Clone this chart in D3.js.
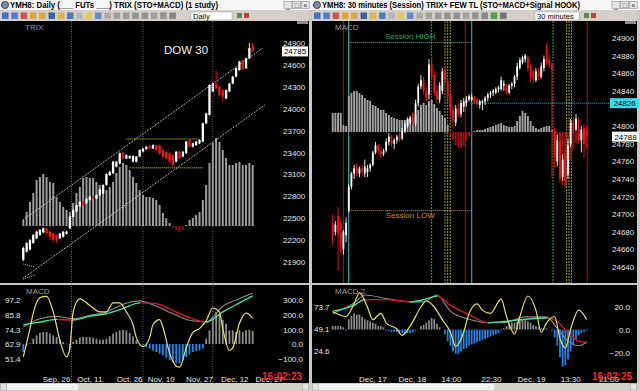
<!DOCTYPE html>
<html>
<head>
<meta charset="utf-8">
<script src="https://cdn.jsdelivr.net/npm/d3@7"></script>
<style>
  html, body { margin: 0; padding: 0; background: #c0c0c0; }
  svg { display: block; font-family: "Liberation Sans", Arial, sans-serif; }
</style>
</head>
<body>
<svg width="640" height="391"></svg>
<script>
// ---------- Daily window data (open, high, low, close) ----------
const dailyOHLC = [
  [21930,22110,21910,22090],[22040,22170,22030,22160],[22070,22215,22060,22200],[22160,22285,22150,22270],
  [22225,22330,22215,22315],[22270,22350,22260,22340],[22305,22375,22295,22360],[22360,22375,22280,22290],
  [22315,22330,22200,22245],[22290,22300,22180,22200],[22270,22280,22160,22200],[22225,22300,22215,22290],
  [22245,22325,22235,22315],[22285,22330,22275,22315],[22360,22530,22350,22520],[22520,22625,22510,22610],
  [22590,22690,22580,22680],[22665,22735,22655,22725],[22725,22740,22670,22680],[22705,22780,22695,22770],
  [22750,22805,22740,22795],[22795,22810,22760,22770],[22770,22830,22760,22815],[22815,22905,22805,22895],
  [22840,22965,22830,22955],[22955,23115,22945,23105],[23090,23150,23080,23135],[23115,23285,23105,23275],
  [23205,23285,23195,23275],[23250,23400,23240,23390],[23395,23410,23310,23320],[23320,23375,23310,23365],
  [23320,23360,23310,23350],[23275,23360,23265,23350],[23275,23350,23265,23345],[23345,23445,23335,23435],
  [23410,23465,23400,23455],[23445,23490,23435,23480],[23490,23500,23450,23455],[23455,23510,23445,23500],
  [23500,23510,23420,23435],[23500,23510,23370,23390],[23435,23445,23310,23345],[23410,23420,23300,23320],
  [23390,23400,23250,23275],[23365,23375,23200,23230],[23275,23420,23265,23410],[23410,23420,23310,23320],
  [23345,23420,23335,23410],[23390,23560,23380,23550],[23570,23590,23470,23480],[23480,23535,23470,23525],
  [23500,23560,23490,23550],[23525,23580,23515,23570],[23550,23810,23540,23800],[23800,23945,23790,23935],
  [23915,24335,23905,24325],[24235,24360,24225,24345],[24345,24530,24270,24280],[24300,24310,24170,24185],
  [24255,24265,24100,24165],[24140,24265,24130,24255],[24235,24355,24225,24345],[24345,24450,24335,24440],
  [24440,24560,24430,24555],[24530,24655,24520,24645],[24665,24675,24530,24540],[24555,24700,24545,24690],
  [24690,24900,24680,24830],[24870,24900,24770,24785]
];
const dailyTrixHist = [
  6,14,24,33,46,49,52,49,44,43, 29,24,19,16,14,23,33,39,48,49,
  48,48,44,41,36,36,39,44,53,59, 63,61,56,49,43,36,31,29,29,28,
  26,21,13,8,3,-2,-4,-6,-4,1, 6,8,11,14,26,41,63,83,88,84,
  76,68,61,61,63,64,61,61,63,61
];
const dailyMacdHist = [
  -55,-10,5,37,60,76,82,82,71,60, 48,30,14,2,-32,14,30,44,48,48,
  48,44,37,30,30,37,53,71,82,94, 98,94,76,53,25,2,-9,-21,-32,-44,
  -55,-66,-78,-94,-112,-124,-131,-131,-112,-89, -71,-55,-48,-44,-32,37,94,174,220,208,
  167,140,94,94,82,94,82,94,98,89
];
// [day index, value]
const dailyMacdLine = [[0,117],[5,174],[10,190],[15,174],[20,197],[25,220],[30,273],[35,296],[40,259],[45,208],[50,163],[55,151],[60,259],[65,311],[69,350]];
const dailySignal = [[0,133],[5,151],[10,169],[15,165],[20,190],[25,208],[30,243],[35,282],[40,277],[45,231],[50,181],[55,151],[60,220],[65,282],[69,330]];
const dailyStoch = [[0,53],[2,75],[3,87],[5,99],[7,100],[9,88],[11,66],[13,53],[14,60],[15,88],[17,98],[20,93],[23,88],[25,88],[27,95],[29,95],[31,88],[33,78],[34,68],[36,61],[38,68],[39,78],[41,82],[42,76],[44,56],[46,46],[47,45],[49,60],[51,72],[53,75],[55,81],[57,91],[59,88],[60,75],[62,58],[63,60],[65,79],[67,87],[69,83]];
const dailyPriceTicks = [21900,22200,22500,22800,23100,23400,23700,24000,24300,24600,24900];
const dailyMacdTicks = [-100,0,100,200,300];
const dailyStochTicks = [51.4,62.9,74.3,85.8,97.2];
const dailyDates = ["Sep, 26","Oct, 11","Oct, 26","Nov, 10","Nov, 27","Dec, 12","Dec, 27"];
const dailyDateDays = [10,20,32,41.5,53,63.6,74];
const dailyMonthStarts = [14.5,36,57];
const dailyChannelUpper = [[0,22480],[72,24830]];
const dailyChannelLower = [[0,21680],[72.6,24050]];
const dailyRangeTop = [[31,23585],[53,23585]];
const dailyRangeBottom = [[32,23190],[54,23190]];
const dailyStubA = [[0,21873],[3.6,21832]];
const dailyStubB = [[0,21667],[3.6,21722]];
const dailyLast = 24785;

// ---------- 30 minute window data ----------
const intraOHLC = [
  [24690,24700,24665,24676],[24680,24692,24676,24688],[24698,24708,24636,24678],[24690,24695,24655,24665],
  [24660,24682,24654,24680],[24676,24696,24668,24690],[24704,24734,24702,24731],[24731,24748,24728,24746],
  [24746,24756,24740,24752],[24754,24758,24742,24746],[24746,24754,24742,24752],[24752,24756,24744,24748],
  [24746,24762,24742,24754],[24748,24756,24742,24752],[24752,24758,24748,24756],[24756,24772,24754,24770],
  [24770,24782,24768,24778],[24778,24780,24768,24772],[24772,24776,24764,24768],[24768,24774,24766,24772],
  [24772,24786,24770,24782],[24782,24792,24778,24788],[24788,24790,24776,24780],[24780,24786,24774,24784],
  [24784,24790,24780,24788],[24790,24794,24782,24785],[24786,24798,24784,24795],[24795,24804,24792,24802],
  [24800,24810,24798,24808],[24804,24812,24802,24810],[24814,24816,24800,24803],[24803,24830,24800,24826],
  [24826,24848,24822,24845],[24845,24858,24842,24852],[24852,24856,24836,24840],[24840,24844,24828,24830],
  [24836,24876,24830,24870],[24870,24878,24852,24856],[24858,24862,24834,24838],[24840,24846,24826,24830],
  [24830,24850,24826,24846],[24840,24866,24836,24862],[24864,24868,24848,24852],[24850,24854,24830,24834],
  [24836,24838,24812,24818],[24818,24822,24798,24806],[24804,24824,24800,24820],[24820,24826,24810,24814],
  [24814,24830,24810,24826],[24822,24832,24816,24828],[24826,24834,24822,24830],[24830,24836,24828,24834],
  [24830,24836,24828,24833],[24832,24834,24826,24828],[24830,24832,24822,24826],[24824,24830,24820,24828],
  [24826,24830,24818,24828],[24828,24834,24824,24832],[24832,24838,24828,24836],[24836,24840,24832,24838],
  [24838,24842,24834,24840],[24838,24844,24836,24842],[24842,24846,24838,24844],[24842,24856,24840,24852],
  [24846,24852,24840,24848],[24846,24848,24836,24838],[24838,24848,24836,24846],[24846,24850,24842,24848],
  [24848,24858,24844,24856],[24856,24872,24852,24868],[24866,24878,24864,24875],[24872,24880,24870,24878],
  [24876,24882,24872,24880],[24878,24880,24862,24866],[24868,24870,24850,24856],[24862,24864,24848,24854],
  [24852,24866,24850,24862],[24862,24866,24852,24856],[24856,24872,24854,24868],[24866,24880,24862,24876],
  [24888,24894,24868,24872],[24876,24882,24866,24870],[24870,24872,24742,24864],[24795,24798,24752,24765],
  [24760,24790,24754,24784],[24782,24786,24735,24740],[24742,24768,24738,24762],[24770,24774,24730,24738],
  [24745,24785,24740,24778],[24780,24808,24776,24804],[24806,24810,24790,24794],[24796,24814,24794,24808],
  [24806,24810,24780,24784],[24784,24800,24770,24796],[24798,24802,24764,24780],[24795,24800,24774,24788]
];
const intraTrixHist = [
  19,19,19,19,7,6,36,39,41,41, 39,37,34,32,31,27,26,24,22,22,
  19,17,15,14,13,12,12,12,13,13, 12,17,22,27,29,27,31,32,28,24,
  21,17,14,7,-3,-8,-13,-16,-16,-14, -9,-4,-2,1,2,2,2,3,4,5,
  6,7,8,9,7,6,5,5,6,11, 16,21,19,16,11,6,4,3,4,5,
  6,6,2,-11,-28,-41,-53,-54,-44,-28, -18,-11,-8,-7,-6,-4
];
const intraMacdHist = [
  3,3,3,3,2,-1,9,12,14,13, 13,11,9,8,7,6,5,3,3,2,
  -1,-1,-2,-2,-2,-2,-3,-3,-3,-3, -2,-1,0,3,4,6,8,10,9,5,
  2,0,-4,-10,-14,-19,-21,-21,-19,-17, -16,-14,-13,-12,-11,-10,-9,-8,-7,-6,
  -5,-4,-3,-1,1,3,5,6,6,7, 9,9,8,7,6,4,3,2,1,1,
  1,0,-1,-7,-14,-24,-32,-31,-26,-19, -13,-9,-5,-3,-2,-1
];
const intraMacdLine = [[0,14],[8,23],[12,30],[20,27],[29,24],[34,24],[39,30],[44,16],[51,9],[58,6],[64,6],[72,11],[80,11],[84,1],[88,-10],[92,-14],[95,-11]];
const intraSignal = [[0,16],[8,21],[12,26],[20,26],[29,24],[34,26],[39,29],[44,21],[51,13],[58,6],[64,7],[72,9],[80,10],[84,7],[88,-3],[92,-10],[95,-11]];
const intraStoch = [[0,68.4],[5,63.1],[8,77.2],[10,89.5],[13,73.7],[15,59.6],[18,66.6],[20,56.1],[24,49.1],[26,42.1],[29,52.6],[33,73.7],[35,80.7],[38,73.7],[41,59.6],[44,45.6],[46,29.8],[49,45.6],[51,66.6],[54,77.2],[56,70.2],[59,66.6],[63,82.4],[65,63.1],[68,43.8],[70,63.1],[73,86.0],[76,70.2],[78,45.6],[80,56.1],[83,63.1],[85,38.6],[87,28.0],[89,49.1],[92,70.2],[95,59.6]];
const intraPriceTicks = d3.range(24640, 24901, 20);
const intraMacdTicks = [-20,0,20];
const intraStochTicks = [24.6,49.1,73.7];
const intraDates = ["Dec, 17","Dec, 18","14:00","22:30","Dec, 19","13:30","21:00"];
const intraDateBars = [15,29.8,44.4,59.4,74.4,89,103.3];
const intraRedMarks = [4,49.6,95.2];
const intraCyanMarks = [6,52];
const intraGreenMarks = [37,82.4];
const intraOliveMarks = [42,43,44,87.5,88.4,89.3];
const sessionHigh = 24895, sessionLow = 24704, sessionFrom = 6, sessionTo = 52;
const refLevel = 24826;
const intraLast = 24788;

// ---------- helpers ----------
const svg = d3.select("svg");
const toolbarIcons = ["#2f5fc8","#3a6ad0","#c84040","#e0a020","#d8a030","#2050a0","#e0b040","#3070c0","#b0b0b0","#e8c848",
                      "#4f7fd0","#a8a8a8","#989898","#909090","#888","#888","#999","#888","#7a7a7a","#30a030","#666"];

function chrome(x0, w, title, titleLen, interval, ddX, ddW, thumbX, thumbW) {
  const g = svg.append("g").attr("transform", `translate(${x0},0)`);
  g.append("rect").attr("width", w).attr("height", 10).attr("fill", "#f7f7f7");
  g.append("circle").attr("cx", 5).attr("cy", 5).attr("r", 3.6)
    .attr("fill", "#7c8aa8").attr("stroke", "#222").attr("stroke-width", 0.7);
  g.append("text").attr("x", 10).attr("y", 8.2).attr("font-size", 8.5).attr("font-weight", "bold")
    .attr("textLength", titleLen).attr("lengthAdjust", "spacingAndGlyphs").text(title);
  ["_", "\u25A1", "\u00D7"].forEach((s, i) => {
    const bx = w - 28 + i * 8.6;
    g.append("rect").attr("x", bx).attr("y", 1.5).attr("width", 8).attr("height", 7)
      .attr("fill", "#e4e4e4").attr("stroke", "#8a8a8a").attr("stroke-width", 0.6);
    g.append("text").attr("x", bx + 4).attr("y", 7.6).attr("text-anchor", "middle")
      .attr("font-size", 7).attr("fill", "#333").text(s);
  });
  // toolbar
  g.append("rect").attr("y", 10).attr("width", w).attr("height", 11).attr("fill", "#d4d0c8");
  const nIcons = Math.floor((ddX - 6) / 9.3);
  g.selectAll(null).data(toolbarIcons.slice(0, nIcons)).join("rect")
    .attr("x", (d, i) => 2 + i * 9.3).attr("y", 12.5).attr("width", 6.5).attr("height", 6.5)
    .attr("fill", d => d).attr("opacity", 0.85);
  g.append("rect").attr("x", ddX).attr("y", 12).attr("width", ddW).attr("height", 8)
    .attr("fill", "#fff").attr("stroke", "#9a9a9a").attr("stroke-width", 0.5);
  g.append("text").attr("x", ddX + 2).attr("y", 18.8).attr("font-size", 7.5).text(interval);
  g.append("rect").attr("x", ddX + ddW + 5).attr("y", 13).attr("width", 5).attr("height", 5).attr("fill", "#5a8a5a");
  g.append("rect").attr("x", ddX + ddW + 12).attr("y", 13).attr("width", 5).attr("height", 5).attr("fill", "#c04040");
  // chart area
  g.append("rect").attr("y", 21).attr("width", w - 3).attr("height", 362).attr("fill", "#000");
  g.append("rect").attr("x", w - 3).attr("y", 10).attr("width", 3).attr("height", 381).attr("fill", "#c8c8c8");
  g.append("rect").attr("x", w - 15).attr("y", 21).attr("width", 11).attr("height", 3).attr("fill", "#8a8a8a");
  g.append("line").attr("x1", 0).attr("x2", w - 3).attr("y1", 284).attr("y2", 284)
    .attr("stroke", "#c8c8c8").attr("stroke-width", 2);
  // scrollbar
  g.append("rect").attr("y", 383).attr("width", w).attr("height", 8).attr("fill", "#d4d0c8");
  g.append("rect").attr("x", thumbX).attr("y", 384).attr("width", thumbW).attr("height", 6).attr("fill", "#f2f2f2");
  g.append("rect").attr("x", 0.5).attr("y", 383.5).attr("width", 6).attr("height", 7).attr("fill", "#e4e4e4").attr("stroke", "#999").attr("stroke-width", 0.5);
  g.append("rect").attr("x", w - 9.5).attr("y", 383.5).attr("width", 6).attr("height", 7).attr("fill", "#e4e4e4").attr("stroke", "#999").attr("stroke-width", 0.5);
  return g;
}

function styleAxis(g, color) {
  g.select(".domain").remove();
  g.selectAll(".tick line").remove();
  g.attr("font-family", null).attr("font-size", 8);
  g.selectAll("text").attr("fill", color || "#e6e6e6");
}

function candles(g, data, x, y, bw) {
  const up = d => d[3] >= d[0];
  g.selectAll(null).data(data).join("line")
    .attr("x1", (d, i) => x(i)).attr("x2", (d, i) => x(i))
    .attr("y1", d => y(d[1])).attr("y2", d => y(d[2]))
    .attr("stroke", d => up(d) ? "#ffffff" : "#ff1010").attr("stroke-width", 0.9);
  g.selectAll(null).data(data).join("rect")
    .attr("x", (d, i) => x(i) - bw / 2).attr("width", bw)
    .attr("y", d => y(Math.max(d[0], d[3])))
    .attr("height", d => Math.max(1, Math.abs(y(d[0]) - y(d[3]))))
    .attr("fill", d => up(d) ? "#ffffff" : "#ff1010");
}

function histogram(g, data, x, y, bw, upColor, downColor) {
  g.selectAll(null).data(data).join("rect")
    .attr("x", (d, i) => x(i) - bw / 2).attr("width", bw)
    .attr("y", d => y(Math.max(0, d)))
    .attr("height", d => Math.abs(y(d) - y(0)))
    .attr("fill", d => d >= 0 ? upColor : downColor);
}

function curve(g, pts, x, y, stroke, width) {
  return g.append("path")
    .attr("d", d3.line().x(d => x(d[0])).y(d => y(d[1])).curve(d3.curveMonotoneX)(pts))
    .attr("fill", "none").attr("stroke", stroke).attr("stroke-width", width);
}

// signal line: green while rising, red while falling
function signalCurve(g, pts, x, y, id) {
  const x0 = x(pts[0][0]), x1 = x(pts[pts.length - 1][0]);
  const grad = svg.append("defs").append("linearGradient").attr("id", id)
    .attr("gradientUnits", "userSpaceOnUse").attr("x1", x0).attr("x2", x1).attr("y1", 0).attr("y2", 0);
  for (let k = 1; k < pts.length; k++) {
    const c = pts[k][1] > pts[k - 1][1] ? "#3ce8a0" : "#e01818";
    grad.append("stop").attr("offset", (x(pts[k - 1][0]) - x0) / (x1 - x0)).attr("stop-color", c);
    grad.append("stop").attr("offset", (x(pts[k][0]) - x0) / (x1 - x0)).attr("stop-color", c);
  }
  curve(g, pts, x, y, `url(#${id})`, 1.4);
}

function segment(g, pts, x, y, stroke, dash) {
  g.append("line")
    .attr("x1", x(pts[0][0])).attr("y1", y(pts[0][1]))
    .attr("x2", x(pts[1][0])).attr("y2", y(pts[1][1]))
    .attr("stroke", stroke).attr("stroke-width", 1).attr("stroke-dasharray", dash);
}

function priceBox(g, x, y, w, text, fill) {
  g.append("rect").attr("x", x).attr("y", y - 5).attr("width", w).attr("height", 10).attr("fill", fill);
  g.append("text").attr("x", x + w / 2).attr("y", y + 3).attr("text-anchor", "middle")
    .attr("font-size", 8).attr("fill", "#000").text(text);
}

// ---------- windows ----------
chrome(0, 312, "YMH8: Daily (___ FUTs ___)  TRIX (STO+MACD)  (1 study)", 208, "Daily", 191, 41, 7, 71);
chrome(312, 328, "YMH8: 30 minutes (Session)  TRIX+ FEW TL (STO+MACD+Signal HOOK)", 258, "30 minutes", 223, 44, 6, 176);

// ---------- daily chart ----------
const dX = d3.scaleLinear().domain([0, dailyOHLC.length - 1]).range([23.3, 252.7]);
const dY = d3.scaleLinear().domain([21900, 24900]).range([262, 43]);
const dTrixY = d3.scaleLinear().domain([0, 90]).range([226, 136]);
const dMacdY = d3.scaleLinear().domain([-100, 300]).range([358.6, 300.3]);
const dStochY = d3.scaleLinear().domain([51.4, 97.2]).range([359, 300]);

svg.append("clipPath").attr("id", "clipD").append("rect").attr("x", 0).attr("y", 21).attr("width", 279).attr("height", 262);
const dPrice = svg.append("g").attr("clip-path", "url(#clipD)");

svg.append("g").selectAll(null).data(dailyMonthStarts).join("line")
  .attr("x1", d => dX(d)).attr("x2", d => dX(d)).attr("y1", 21).attr("y2", 383)
  .attr("stroke", "#8a8a8a").attr("stroke-width", 0.8).attr("stroke-dasharray", "1,1.5");

histogram(dPrice, dailyTrixHist, dX, dTrixY, 2, "#9c9c9c", "#8b1010");
segment(dPrice, dailyChannelUpper, dX, dY, "#e8e8e8", "1,1");
segment(dPrice, dailyChannelLower, dX, dY, "#e8e8e8", "1,1");
segment(dPrice, dailyRangeTop, dX, dY, "#d8d860", "1,1");
segment(dPrice, dailyRangeBottom, dX, dY, "#d8d860", "1,1");
segment(dPrice, dailyStubA, dX, dY, "#d8d860", "1,1");
segment(dPrice, dailyStubB, dX, dY, "#d8d860", "1,1");
candles(dPrice, dailyOHLC, dX, dY, 2.3);

svg.append("text").attr("x", 25).attr("y", 30).attr("font-size", 8).attr("fill", "#9a9a9a").text("TRIX");
svg.append("text").attr("x", 186).attr("y", 54).attr("text-anchor", "middle").attr("font-size", 11.5).attr("fill", "#f0f0f0").text("DOW 30");

svg.append("g").attr("transform", "translate(283,0)")
  .call(d3.axisRight(dY).tickValues(dailyPriceTicks).tickSize(0).tickPadding(0).tickFormat(d3.format("d")))
  .call(styleAxis);
priceBox(svg, 282, dY(dailyLast), 26, dailyLast, "#ffffff");

// daily MACD panel
const dMacd = svg.append("g");
histogram(dMacd, dailyMacdHist, dX, dMacdY, 1.8, "#8c8c8c", "#1e88f0");
curve(dMacd, dailyMacdLine, dX, dMacdY, "#8a8a8a", 1.1);
signalCurve(dMacd, dailySignal, dX, dMacdY, "sigD");
curve(dMacd, dailyStoch, dX, dStochY, "#e6e060", 1.2);
svg.append("text").attr("x", 26).attr("y", 294).attr("font-size", 8).attr("fill", "#9a9a9a").text("MACD");
svg.append("g").attr("transform", "translate(5,0)")
  .call(d3.axisRight(dStochY).tickValues(dailyStochTicks).tickSize(0).tickPadding(0).tickFormat(d3.format(".1f")))
  .call(styleAxis);
svg.append("g").attr("transform", "translate(303,0)")
  .call(d3.axisLeft(dMacdY).tickValues(dailyMacdTicks).tickSize(0).tickPadding(0).tickFormat(d3.format(".1f")))
  .call(styleAxis);
svg.append("g").selectAll(null).data(dailyDates).join("text")
  .attr("x", (d, i) => dX(dailyDateDays[i])).attr("y", 381.5).attr("text-anchor", "middle")
  .attr("font-size", 8).attr("fill", "#e6e6e6").text(d => d);
svg.append("text").attr("x", 282).attr("y", 379.5).attr("text-anchor", "middle").attr("font-size", 10)
  .attr("font-weight", "bold").attr("fill", "#ff2020").text("16:02:23");

// ---------- 30 minute chart ----------
const iX = d3.scaleLinear().domain([0, intraOHLC.length - 1]).range([332.7, 586.7]);
const iY = d3.scaleLinear().domain([24640, 24900]).range([267, 38]);
const iTrixY = d3.scaleLinear().domain([0, 40]).range([132, 92]);
const iMacdY = d3.scaleLinear().domain([-20, 20]).range([352.6, 306.5]);
const iStochY = d3.scaleLinear().domain([24.6, 73.7]).range([351, 307]);

svg.append("clipPath").attr("id", "clipI").append("rect").attr("x", 313).attr("y", 21).attr("width", 294).attr("height", 262);
const iPrice = svg.append("g").attr("clip-path", "url(#clipI)");

const vmark = (list, color, dash, width) => iPrice.append("g").selectAll(null).data(list).join("line")
  .attr("x1", d => iX(d)).attr("x2", d => iX(d)).attr("y1", 21).attr("y2", 284)
  .attr("stroke", color).attr("stroke-width", width).attr("stroke-dasharray", dash);
vmark(intraGreenMarks, "#30c030", "2,1", 0.9);
vmark(intraOliveMarks, "#a8a838", "2,1", 0.9);
vmark(intraRedMarks, "#a01818", null, 1);
vmark(intraCyanMarks, "#30c8c8", null, 1);

histogram(iPrice, intraTrixHist, iX, iTrixY, 1.9, "#a4a4a4", "#a01010");

iPrice.append("line").attr("x1", iX(sessionFrom)).attr("x2", iX(sessionTo))
  .attr("y1", iY(sessionHigh)).attr("y2", iY(sessionHigh))
  .attr("stroke", "#3ccf80").attr("stroke-width", 1).attr("stroke-dasharray", "1,1");
iPrice.append("line").attr("x1", iX(sessionFrom)).attr("x2", iX(sessionTo))
  .attr("y1", iY(sessionLow)).attr("y2", iY(sessionLow))
  .attr("stroke", "#e08a20").attr("stroke-width", 1).attr("stroke-dasharray", "1,1");
iPrice.append("text").attr("x", (iX(sessionFrom) + iX(sessionTo)) / 2).attr("y", iY(sessionHigh) - 3)
  .attr("text-anchor", "middle").attr("font-size", 8).attr("fill", "#30a868").text("Session HIGH");
iPrice.append("text").attr("x", (iX(sessionFrom) + iX(sessionTo)) / 2).attr("y", iY(sessionLow) + 7)
  .attr("text-anchor", "middle").attr("font-size", 8).attr("fill", "#c88a30").text("Session LOW");
svg.append("line").attr("x1", iX(sessionTo)).attr("x2", 610).attr("y1", iY(refLevel)).attr("y2", iY(refLevel))
  .attr("stroke", "#30c8d8").attr("stroke-width", 1).attr("stroke-dasharray", "1,1");

candles(iPrice, intraOHLC, iX, iY, 1.8);
svg.append("text").attr("x", 335).attr("y", 30).attr("font-size", 8).attr("fill", "#9a9a9a").text("MACD");

// the tick hidden under the reference-level box is left out
svg.append("g").attr("transform", "translate(612,0)")
  .call(d3.axisRight(iY).tickValues(intraPriceTicks.filter(v => Math.abs(v - refLevel) > 8))
    .tickSize(0).tickPadding(0).tickFormat(d3.format("d")))
  .call(styleAxis);
priceBox(svg, 610, iY(refLevel), 29, refLevel, "#30e0f0");
priceBox(svg, 612, iY(intraLast), 27, intraLast, "#ffffff");

const iMacd = svg.append("g");
histogram(iMacd, intraMacdHist, iX, iMacdY, 1.7, "#8c8c8c", "#1e88f0");
curve(iMacd, intraMacdLine, iX, iMacdY, "#8a8a8a", 1.1);
signalCurve(iMacd, intraSignal, iX, iMacdY, "sigI");
curve(iMacd, intraStoch, iX, iStochY, "#e6e060", 1.2);
svg.append("text").attr("x", 335).attr("y", 294).attr("font-size", 8).attr("fill", "#9a9a9a").text("MACD 2");
svg.append("g").attr("transform", "translate(314,0)")
  .call(d3.axisRight(iStochY).tickValues(intraStochTicks).tickSize(0).tickPadding(0).tickFormat(d3.format(".1f")))
  .call(styleAxis);
svg.append("g").attr("transform", "translate(630,0)")
  .call(d3.axisLeft(iMacdY).tickValues(intraMacdTicks).tickSize(0).tickPadding(0).tickFormat(d3.format(".1f")))
  .call(styleAxis);
svg.append("g").selectAll(null).data(intraDates).join("text")
  .attr("x", (d, i) => iX(intraDateBars[i])).attr("y", 381.5).attr("text-anchor", "middle")
  .attr("font-size", 8).attr("fill", "#e6e6e6").text(d => d);
svg.append("text").attr("x", 612).attr("y", 379.5).attr("text-anchor", "middle").attr("font-size", 10)
  .attr("font-weight", "bold").attr("fill", "#ff2020").text("16:02:25");
</script>
</body>
</html>
